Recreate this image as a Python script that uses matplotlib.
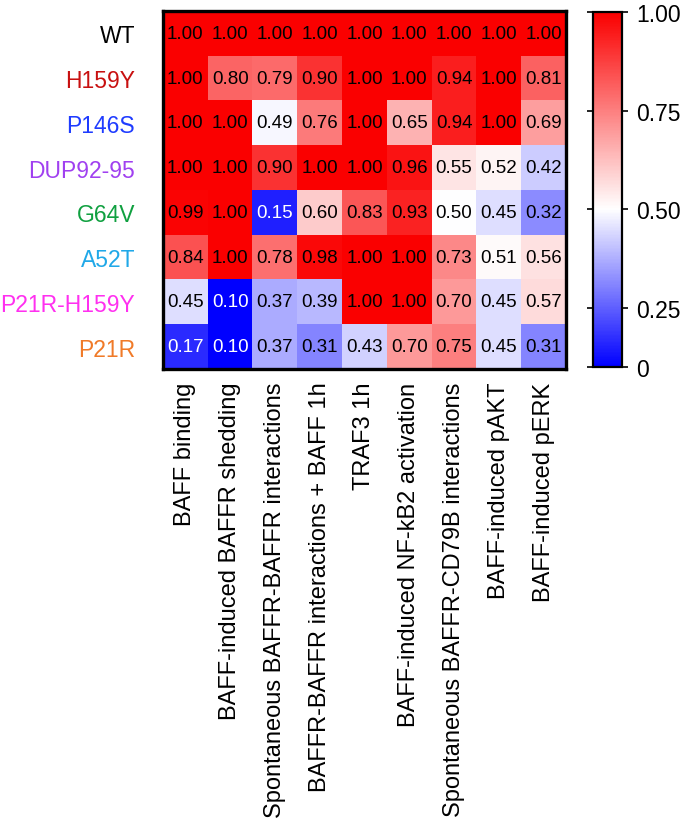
import numpy as np
import matplotlib
matplotlib.use("Agg")
import matplotlib.pyplot as plt
from matplotlib.colors import LinearSegmentedColormap, Normalize

plt.rcParams['font.family'] = ['Liberation Sans', 'DejaVu Sans']

# ============================
# Data
# ============================
mutants = ["WT", "H159Y", "P146S", "DUP92-95", "G64V", "A52T", "P21R-H159Y", "P21R"]
mutant_colors = ["#000000", "#c81010", "#1f3cff", "#a040f0", "#10a040",
                 "#20a8e8", "#ff30f0", "#f07a28"]
assays = [
    "BAFF binding",
    "BAFF-induced BAFFR shedding",
    "Spontaneous BAFFR-BAFFR interactions",
    "BAFFR-BAFFR interactions + BAFF 1h",
    "TRAF3 1h",
    "BAFF-induced NF-kB2 activation",
    "Spontaneous BAFFR-CD79B interactions",
    "BAFF-induced pAKT",
    "BAFF-induced pERK",
]

wt         = [1.00, 1.00, 1.00, 1.00, 1.00, 1.00, 1.00, 1.00, 1.00]
h159y      = [1.00, 0.80, 0.79, 0.90, 1.00, 1.00, 0.94, 1.00, 0.81]
p146s      = [1.00, 1.00, 0.49, 0.76, 1.00, 0.65, 0.94, 1.00, 0.69]
dup92_95   = [1.00, 1.00, 0.90, 1.00, 1.00, 0.96, 0.55, 0.52, 0.42]
g64v       = [0.99, 1.00, 0.15, 0.60, 0.83, 0.93, 0.50, 0.45, 0.32]
a52t       = [0.84, 1.00, 0.78, 0.98, 1.00, 1.00, 0.73, 0.51, 0.56]
p21r_h159y = [0.45, 0.10, 0.37, 0.39, 1.00, 1.00, 0.70, 0.45, 0.57]
p21r       = [0.17, 0.10, 0.37, 0.31, 0.43, 0.70, 0.75, 0.45, 0.31]

values = np.array([wt, h159y, p146s, dup92_95, g64v, a52t, p21r_h159y, p21r])

vmin, vmid, vmax = 0.10, 0.50, 1.00
cbar_ticks = [0.10, 0.25, 0.50, 0.75, 1.00]
cbar_labels = ["0", "0.25", "0.50", "0.75", "1.00"]

# ============================
# Colormap: blue -> white -> red
# ============================
mid_frac = (vmid - vmin) / (vmax - vmin)
cmap = LinearSegmentedColormap.from_list(
    "bwr_prism", [(0.0, "#0000ff"), (mid_frac, "#ffffff"), (1.0, "#fa0000")])
norm = Normalize(vmin=vmin, vmax=vmax)

# ============================
# Plot
# ============================
fig = plt.figure(figsize=(6.85, 8.2), dpi=100)
W, H = 685, 820
ax = fig.add_axes([163 / W, 1 - 370 / H, (566 - 163) / W, (370 - 12) / H])
cax = fig.add_axes([593 / W, 1 - 368 / H, (622 - 593) / W, (368 - 13) / H])

im = ax.imshow(values, cmap=cmap, norm=norm, aspect="auto", interpolation="nearest")

n_rows, n_cols = values.shape
for i in range(n_rows):
    for j in range(n_cols):
        v = values[i, j]
        ax.text(j, i, f"{v:.2f}", ha="center", va="center", fontsize=13.5,
                color="white" if v < 0.2 else "black")

ax.set_xticks(range(n_cols))
ax.set_xticklabels(assays, rotation=90, fontsize=17, va="top")
ax.set_yticks(range(n_rows))
ax.set_yticklabels(mutants, fontsize=16.5)
for lbl, c in zip(ax.get_yticklabels(), mutant_colors):
    lbl.set_color(c)
ax.tick_params(length=0)
ax.tick_params(axis="y", pad=20)
ax.tick_params(axis="x", pad=9)
for s in ax.spines.values():
    s.set_linewidth(2.4)

cb = fig.colorbar(im, cax=cax)
cb.set_ticks(cbar_ticks)
cb.set_ticklabels(cbar_labels)
cb.outline.set_linewidth(1.6)
cax.tick_params(labelsize=16.5, length=4, width=1.2, left=True, right=True, pad=6)

fig.savefig("out.png", dpi=100)
